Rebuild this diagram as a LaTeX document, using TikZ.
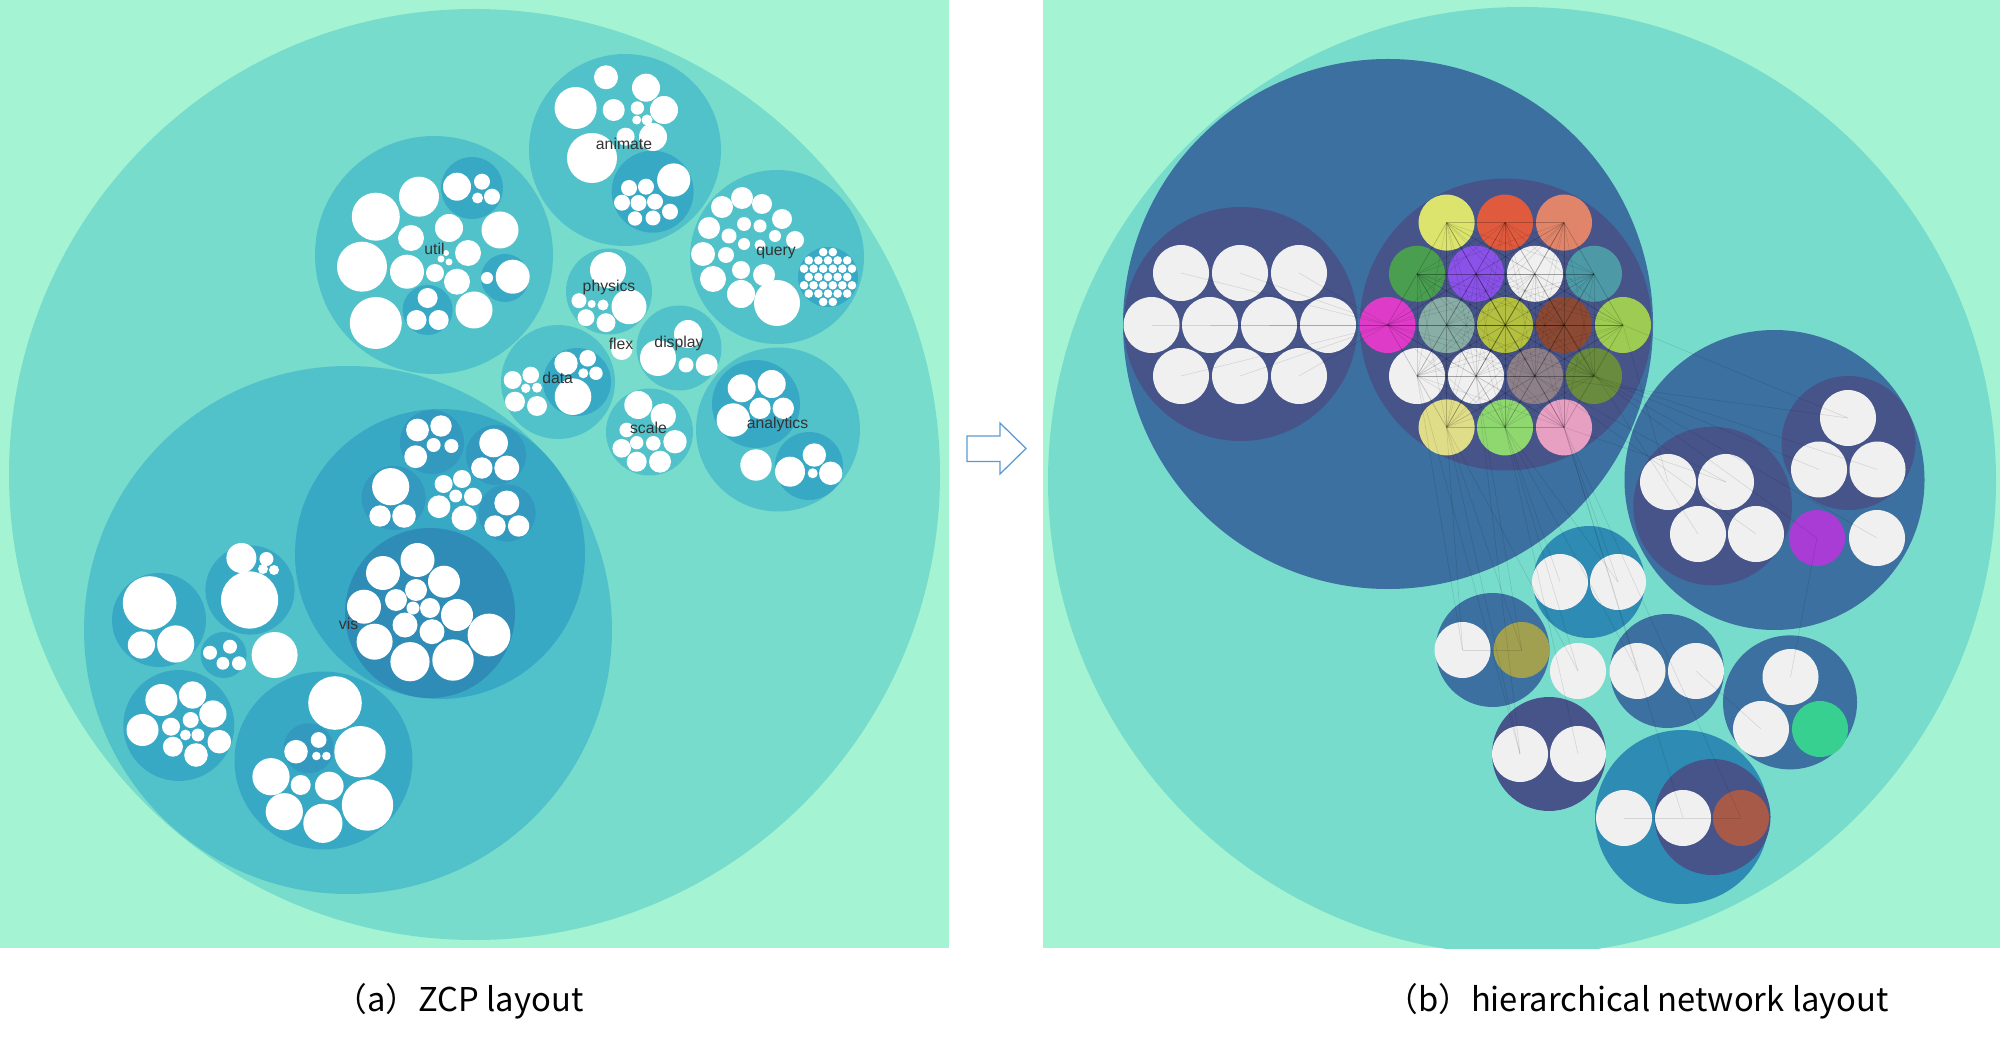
\documentclass[tikz,border=0pt]{standalone}
\usepackage{fontspec}
\newfontfamily\labfont{Liberation Sans}
\newfontfamily\capfont{Noto Sans CJK SC}
\definecolor{bgc}{HTML}{A4F4D3}
\definecolor{outerc}{HTML}{78DCCC}
\definecolor{lvA}{HTML}{52C2CA}
\definecolor{lvB}{HTML}{38A9C5}
\definecolor{lvC}{HTML}{3399BE}
\definecolor{lvD}{HTML}{2E8CB6}
\definecolor{bbig}{HTML}{3C70A0}
\definecolor{bnavy}{HTML}{47548A}
\definecolor{bmed}{HTML}{2E8BB3}
\definecolor{bwhite}{HTML}{F0F0F0}
\definecolor{arrowc}{HTML}{5B9BD5}
\definecolor{labc}{HTML}{333333}
\definecolor{kA}{HTML}{DCE46E}
\definecolor{kB}{HTML}{E05A3E}
\definecolor{kC}{HTML}{E0856A}
\definecolor{kD}{HTML}{4A9E50}
\definecolor{kE}{HTML}{8A52E8}
\definecolor{kF}{HTML}{F0F0F0}
\definecolor{kG}{HTML}{4D9AA6}
\definecolor{kH}{HTML}{DE3CC8}
\definecolor{kI}{HTML}{88AEA5}
\definecolor{kJ}{HTML}{B4C040}
\definecolor{kK}{HTML}{8C4A34}
\definecolor{kL}{HTML}{9ECC52}
\definecolor{kM}{HTML}{F0F0F0}
\definecolor{kN}{HTML}{F0F0F0}
\definecolor{kO}{HTML}{8E8088}
\definecolor{kP}{HTML}{688B3E}
\definecolor{kQ}{HTML}{E0DD88}
\definecolor{kR}{HTML}{8FD870}
\definecolor{kS}{HTML}{E8A0C2}
\definecolor{olivec}{HTML}{A0A050}
\definecolor{greenc}{HTML}{38D090}
\definecolor{rustc}{HTML}{A85A48}
\definecolor{purpc}{HTML}{A83CD5}
\begin{document}
\begin{tikzpicture}[x=0.025cm,y=-0.025cm,
  edge/.style={draw=black,draw opacity=0.11,line width=0.45pt},
  kedge/.style={draw=black,draw opacity=0.12,line width=0.4pt},
  lab/.style={font=\labfont\fontsize{11.2}{13}\selectfont,text=labc,inner sep=0pt},
  captext/.style={font=\capfont\fontsize{23.3}{28}\selectfont,text=black,inner sep=0pt}]
\useasboundingbox (0,0) rectangle (2000,1043);
\fill[white] (0,0) rectangle (2000,1043);
% ================= panel a =================
\begin{scope}
\clip (0,0) rectangle (949,948);
\fill[bgc] (0,0) rectangle (949,948);
\fill[outerc] (474.5,474.5) circle (465.5);
% level 2
\foreach \x/\y/\r in {348/630/264, 434/255/119, 625/150/96, 777/257/87, 609/291.5/43,
  679/348/42.5, 558/382/57, 649.5/432/43.5, 778/429.5/82}
  \fill[lvA] (\x,\y) circle (\r);
% level 3
\foreach \x/\y/\r in {472/188/31, 505/278/24, 427.6/310/25, 652.6/191.7/41, 828/277/30,
  577/382/34, 756/404/44, 809/466/34, 440/554/145, 159/620/47, 250/590/44.6,
  223.6/655/23, 178.8/725.5/55.5, 323.5/760.5/89}
  \fill[lvB] (\x,\y) circle (\r);
% level 4
\foreach \x/\y/\r in {432/442/32, 496/455/30, 393.6/498/32, 507/513/28.6, 308.6/748.3/25}
  \fill[lvC] (\x,\y) circle (\r);
\fill[lvD] (430,613) circle (85);
% white leaves: util
\foreach \x/\y/\r in {375.8/216.7/24, 419/196.7/20, 362/266.7/25, 375.8/323/26, 411/238/13,
  407/271.7/17, 449/228/14, 468/253/13, 500/230/18.5, 435/273/9, 457/281.7/13, 474/310/18.5,
  441/259/3.5, 449/262/3.5, 446/253/3, 457/186.7/14, 482/181.7/8, 492/196.7/8, 477.6/198/5.5,
  512.7/276.7/17, 487/278/6, 427.6/298/10, 416.5/320/10, 438.7/320/10}
  \fill[white] (\x,\y) circle (\r);
% animate
\foreach \x/\y/\r in {606/77.3/12, 646/87.7/14, 575.6/108/21, 613.7/110/11, 637.4/108/6.7,
  636.7/120/4.5, 647/120/5.5, 664/110/14, 653/137/14, 625.6/136.7/9, 592/158/25,
  673.7/180/16.6, 629/188/8, 646/186.7/8, 622/202.7/8, 638.5/203/8, 655/201.7/8,
  670/211.7/8, 653/218/7.5, 635/218.5/7.2}
  \fill[white] (\x,\y) circle (\r);
% query
\foreach \x/\y/\r in {777/303/23, 741/294/14, 713/279/13, 703/254/12, 709/228/11, 722/207/11,
  742/198/11, 762/204/10, 782/219/10, 795/240/9, 764/275/11, 741/270/9, 726/255/8,
  729/236/7.5, 744/224/7, 760/226/6.5, 744/244/6, 760/245/5.5, 775/236/6}
  \fill[white] (\x,\y) circle (\r);
\foreach \dx in {-19.2,-9.6,0,9.6,19.2} {
  \fill[white] ({828+(\dx)},277) circle (4.3);
  \fill[white] ({828+(\dx)},260.4) circle (4.3);
  \fill[white] ({828+(\dx)},293.6) circle (4.3);}
\foreach \dx in {-24,-14.4,-4.8,4.8,14.4,24} {
  \fill[white] ({828+(\dx)},268.7) circle (4.3);
  \fill[white] ({828+(\dx)},285.3) circle (4.3);}
\foreach \dx in {-4.8,4.8} {
  \fill[white] ({828+(\dx)},252.1) circle (4.3);
  \fill[white] ({828+(\dx)},301.9) circle (4.3);}
% physics, display, flex
\foreach \x/\y/\r in {608/270/18, 629/306.7/17.5, 579/300.7/7.5, 591.7/304/4, 603/305/5.5,
  586/317.7/8.5, 606/322.7/9.5,
  658/358/18, 688/334/14, 686/365/7.5, 706.7/365/11,
  621.7/349.3/10.7}
  \fill[white] (\x,\y) circle (\r);
% data, scale, analytics
\foreach \x/\y/\r in {512.7/380/9, 530.7/375/8.3, 525.7/388.3/4.7, 537/387.7/5, 515/401.7/10,
  537/406/10, 573/396.7/18.3, 566/363.3/11.7, 587.7/358.3/8.3, 596/373.3/6.7, 583.3/373.3/5,
  638.3/405/14, 663.3/416/12.7, 626.7/430/7.3, 675/441.7/11.7, 621.7/448.3/9.3,
  636.7/442.7/6.7, 653.3/443.3/7.3, 636.7/461.7/10, 660/461.7/11,
  741.7/388.3/14, 771.7/384/14, 760/408.3/10.7, 783.3/408.3/10.7, 733.3/420/16.7,
  790/471.7/15, 814.3/455/11.7, 830.7/473.3/11.7, 812.7/473.3/5, 756/465/15.7}
  \fill[white] (\x,\y) circle (\r);
% vis
\foreach \x/\y/\r in {417.5/560/17, 383/573/17, 444/581.7/16, 416/590/11, 396/600/11,
  430/608/10, 413/608/6.5, 364/606.7/17, 457/615/16, 405/625/12.5, 432/631.7/12.5,
  374.6/641.7/18, 410/661.7/19.6, 453/660/20.7, 489/635/21.4,
  417.5/430/11.4, 441/426/10.7, 415.7/456.7/11.4, 433.6/445/7, 451.4/446/7,
  493.6/443/14.3, 481.8/468/10.7, 506.8/468/12.5,
  390.7/486.7/18.6, 380/516/10.7, 404/516/11.8,
  443.6/484/9, 462/479/9, 455.7/496/6.4, 439/506.7/11.4, 473/496.7/9, 464/518/12.5,
  506.8/503/12.5, 495/526/10.7, 518.6/526/10.7,
  149.6/603/26.8, 141.4/645/13.6, 175.7/644/18.6,
  241.4/558/15, 266.4/559/7, 263/569/5, 274/570/5, 249.6/600/28.6,
  210/652.7/7, 230/646.7/7, 222.9/663.3/6.4, 239/663.3/7, 274.6/655/23,
  161.4/700/16, 192.5/695/13.6, 212.9/714/13.6, 142.5/730/16, 171/726.7/9, 190.7/720/8,
  197.9/735/6.4, 185.4/735/5.4, 172.9/746.7/10, 196/755/11.8, 219.3/741.7/11.8,
  335/703/26.8, 360/751.7/25.7, 367.5/805/25.7, 322.9/823.3/19.6, 284.3/811.7/18.6,
  271/776.7/18.6, 300.7/785/10, 329.3/786/14.3,
  296/751.7/11.8, 318.6/740/7.9, 316.4/756/4.3, 326.4/756/4.3}
  \fill[white] (\x,\y) circle (\r);
% labels
\node[lab] (lanimate) at (624,144) {animate};
\node[lab] (lutil) at (434.5,248.5) {util};
\node[lab] (lquery) at (776,253) {query};
\node[lab] (lphysics) at (609,287) {physics};
\node[lab] (lflex) at (621,343.6) {flex};
\node[lab] (ldisplay) at (679,343.6) {display};
\node[lab] (ldata) at (557.6,377.6) {data};
\node[lab] (lscale) at (648.5,428) {scale};
\node[lab] (lanalytics) at (777.6,424) {analytics};
\node[lab] (lvis) at (348.5,624) {vis};
\end{scope}
% ================= arrow =================
\draw[arrowc,fill=white,line width=0.9pt,line join=miter]
  (967,436) -- (1000,436) -- (1000,423) -- (1026,448.5) -- (1000,474) -- (1000,461.5) -- (967,461.5) -- cycle;
% ================= panel b =================
\begin{scope}
\clip (1043,0) rectangle (2000,948);
\fill[bgc] (1043,0) rectangle (2000,948);
\fill[outerc] (1522,481) circle (474);
\fill[bbig] (1388,324) circle (265);
\fill[bnavy] (1240.7,324) circle (117);
\fill[bnavy] (1505.7,324.5) circle (146);
\fill[bbig] (1774.5,480) circle (150);
\fill[bnavy] (1712.6,506) circle (79.3);
\fill[bnavy] (1848.5,443) circle (67);
\fill[bmed] (1589,582) circle (56);
\fill[bbig] (1492.5,650) circle (57);
\fill[bbig] (1667,671) circle (57);
\fill[bbig] (1790,702.4) circle (67);
\fill[bnavy] (1549,754) circle (57);
\fill[bmed] (1682,817) circle (87);
\fill[bnavy] (1712.5,817) circle (58);
% sub1 whites
\foreach \n/\x/\y in {w1/1181/273, w2/1240/273, w3/1299/273, w4/1151.5/325, w5/1210/325,
  w6/1269/325, w7/1328/325, w8/1181/376, w9/1240/376, w10/1299/376}
  {\fill[bwhite] (\x,\y) circle (28); \coordinate (\n) at (\x,\y);}
% coloured cluster
\foreach \n/\x/\y/\c in {k1/1446.6/222.6/kA, k2/1505/222.6/kB, k3/1564/222.6/kC,
  k4/1417/273.8/kD, k5/1476/273.8/kE, k6/1535/273.8/kF, k7/1594/273.8/kG,
  k8/1387.5/325/kH, k9/1446.6/325/kI, k10/1505/325/kJ, k11/1564/325/kK, k12/1623/325/kL,
  k13/1417/376/kM, k14/1476/376/kN, k15/1535/376/kO, k16/1594/376/kP,
  k17/1446.6/427.4/kQ, k18/1505/427.4/kR, k19/1564/427.4/kS}
  {\fill[\c] (\x,\y) circle (28); \coordinate (\n) at (\x,\y);}
% other leaves
\foreach \n/\x/\y/\c in {aa/1668/482/bwhite, ab/1726/482/bwhite, ac/1698/534/bwhite,
  ad/1756/534/bwhite, ba/1848/418/bwhite, bb/1819/469.5/bwhite, bc/1877.5/469.5/bwhite,
  pu/1817/538/purpc, wz/1877/538/bwhite,
  c1a/1560/582/bwhite, c1b/1618/582/bwhite, c2a/1462.5/650/bwhite, c2b/1521.6/650/olivec,
  c3/1578/671/bwhite, c4a/1637.5/671/bwhite, c4b/1696/671/bwhite,
  c5a/1790.5/677/bwhite, c5b/1761/729/bwhite, c5c/1820/729/greenc,
  c6a/1520/754/bwhite, c6b/1578/754/bwhite,
  c7a/1624/818/bwhite, c7b/1683/818/bwhite, c7c/1741/818/rustc}
  {\fill[\c] (\x,\y) circle (28); \coordinate (\n) at (\x,\y);}
% edges
\foreach \i in {1,...,19} {\foreach \j in {\i,...,19} {\draw[kedge] (k\i) -- (k\j);}}
\foreach \i in {1,2,3,5,6,8,9,10} {\draw[edge] (w\i) -- (k8);}
\draw[edge] (w4) -- (k8);
\foreach \a/\b in {k17/c6a, k17/c2a, k17/c2b, k18/c3, k18/c6b, k18/c1a, k14/c2b, k14/c6a,
  k19/c7c, k19/c4a, k19/c1b, k19/c7b, k15/ba, k15/ab, k15/ad, k16/bc, k16/bb, k16/pu,
  k16/wz, k12/aa, k12/ba, k11/ac, k19/ab, pu/c5a, c2a/c2b, c7a/c7b, c7b/c7c, c5b/c4b,
  k18/c4a, k13/c6a, k17/c3, k18/c1b, k13/c2a}
  {\draw[edge] (\a) -- (\b);}
\end{scope}
% ================= captions =================
\node[captext] (capa) at (459,1001) {（a）ZCP layout};
\node[captext] (capb) at (1637,1001) {（b）hierarchical network layout};
\end{tikzpicture}
\end{document}
